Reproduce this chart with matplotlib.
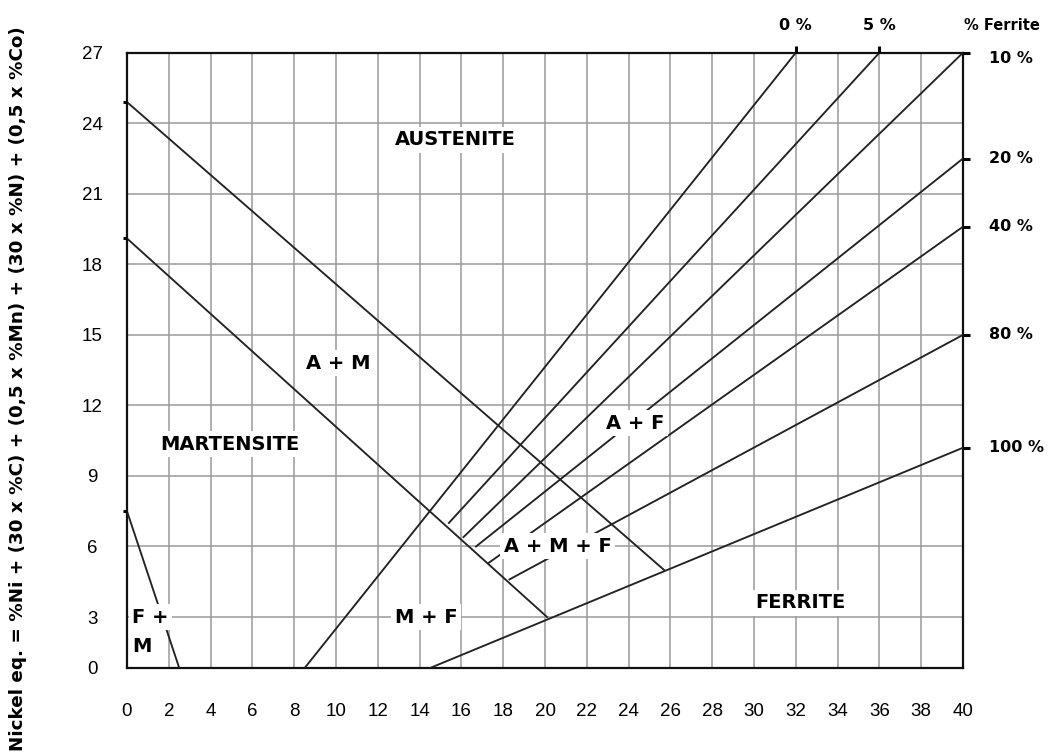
import numpy as np
import matplotlib
matplotlib.use("Agg")
import matplotlib.pyplot as plt

# ---------------- data ----------------
x_ticks = list(range(0, 41, 2))
y_ticks = list(range(0, 28, 3))

# phase boundaries (Cr eq., Ni eq.)
aust_boundary_x = [0.0, 25.7]
aust_boundary_y = [24.9, 5.0]
mart_boundary_x = [0.0, 20.1]
mart_boundary_y = [19.1, 3.0]
fm_boundary_x = [0.0, 2.5]
fm_boundary_y = [7.5, 0.0]

# iso-ferrite lines
ferrite_labels = ["0 %", "5 %", "10 %", "20 %", "40 %", "80 %", "100 %"]
ferrite_x0 = [8.5, 15.4, 16.1, 16.7, 17.3, 18.3, 14.5]
ferrite_y0 = [0.0, 7.0, 6.4, 6.0, 5.3, 4.6, 0.0]
ferrite_x1 = [32.0, 36.0, 40.0, 40.0, 40.0, 40.0, 40.0]
ferrite_y1 = [27.0, 27.0, 27.0, 22.5, 19.6, 15.0, 10.2]

# region labels
region_text = ["AUSTENITE", "A + M", "MARTENSITE", "A + F", "A + M + F",
               "M + F", "FERRITE", "F +", "M"]
region_x = [15.7, 10.1, 4.9, 24.3, 20.6, 14.3, 32.2, 0.25, 0.25]
region_y = [23.3, 13.8, 10.35, 11.25, 6.0, 3.0, 3.6, 3.0, 1.25]

ylabel_text = "Nickel eq. = %Ni + (30 x %C) + (0,5 x %Mn) + (30 x %N) + (0,5 x %Co)"

# ---------------- figure ----------------
W, H = 1048, 753
fig = plt.figure(figsize=(W / 100, H / 100), dpi=100)
L, R, T, B = 127, 963, 52.7, 668
ax = fig.add_axes([L / W, 1 - B / H, (R - L) / W, (B - T) / H])

k = 17.0 / 23.53  # compressed bottom band of the ordinate


def fwd(y):
    y = np.asarray(y, dtype=float)
    return np.where(y <= 3, y * k, 3 * k + (y - 3))


def inv(u):
    u = np.asarray(u, dtype=float)
    return np.where(u <= 3 * k, u / k, u - 3 * k + 3)


ax.set_yscale("function", functions=(fwd, inv))
ax.set_xlim(0, 40)
ax.set_ylim(0, 27)
ax.set_xticks(x_ticks)
ax.set_yticks(y_ticks)
ax.set_xticklabels([str(v) for v in x_ticks])
ax.set_yticklabels([str(v) for v in y_ticks])
ax.grid(True, color="#9a9a9a", lw=1.1)
ax.set_axisbelow(True)
ax.tick_params(length=0)
ax.tick_params(axis="x", pad=25)
ax.tick_params(axis="y", pad=25)
tick_font = dict(family=["Liberation Sans Narrow", "Liberation Sans", "DejaVu Sans"], size=13.5)
for lab in ax.get_xticklabels():
    lab.set_fontproperties(matplotlib.font_manager.FontProperties(**tick_font))
for lab in ax.get_yticklabels():
    lab.set_fontproperties(matplotlib.font_manager.FontProperties(**tick_font))
    lab.set_horizontalalignment("center")
for s in ax.spines.values():
    s.set_linewidth(1.6)
    s.set_color("#111111")

lc = "#222222"
lw = 1.35
ax.plot(aust_boundary_x, aust_boundary_y, color=lc, lw=lw, zorder=3)
ax.plot(mart_boundary_x, mart_boundary_y, color=lc, lw=lw, zorder=3)
ax.plot(fm_boundary_x, fm_boundary_y, color=lc, lw=lw, zorder=3)
for x0, y0, x1, y1 in zip(ferrite_x0, ferrite_y0, ferrite_x1, ferrite_y1):
    ax.plot([x0, x1], [y0, y1], color=lc, lw=lw, zorder=3)

# end marks
bold_font = dict(family="DejaVu Sans", weight="bold")
for lab, x1, y1 in zip(ferrite_labels, ferrite_x1, ferrite_y1):
    if y1 >= 27 and x1 < 40:
        ax.plot([x1], [y1], marker=2, ms=5, mew=2.2, color="k", clip_on=False, zorder=5)
        ax.annotate(lab, (x1, y1), xytext=(0, 19.5), textcoords="offset points",
                    ha="center", va="center", fontsize=11.5, **bold_font)
    else:
        ax.plot([x1], [y1], marker=1, ms=5, mew=2.2, color="k", clip_on=False, zorder=5)
        dy = -4 if y1 >= 27 else 0
        ax.annotate(lab, (x1, y1), xytext=(19, dy), textcoords="offset points",
                    ha="left", va="center", fontsize=11.5, **bold_font)
ax.annotate("% Ferrite", (40, 27), xytext=(1, 19.5), textcoords="offset points",
            ha="left", va="center", fontsize=10.5, **bold_font)
for yy in [aust_boundary_y[0], mart_boundary_y[0], fm_boundary_y[0]]:
    ax.plot([0], [yy], marker=0, ms=3, mew=2.2, color="k", clip_on=False, zorder=5)

# region labels
for i, (t, x, y) in enumerate(zip(region_text, region_x, region_y)):
    ha = "left" if t in ("F +", "M") else "center"
    bb = None if t == "M" else dict(facecolor="white", edgecolor="none", pad=2.5)
    ax.text(x, y, t, ha=ha, va="center", fontsize=14, bbox=bb, zorder=6, **bold_font)

# y-axis label (fit its length)
yl = fig.text(18 / W, 1 - 26 / H, ylabel_text, rotation=90, ha="center", va="top",
              fontsize=13, **bold_font)
fig.canvas.draw()
ext = yl.get_window_extent()
yl.set_fontsize(13 * 722.0 / ext.height)

fig.savefig("out.png", dpi=100)
